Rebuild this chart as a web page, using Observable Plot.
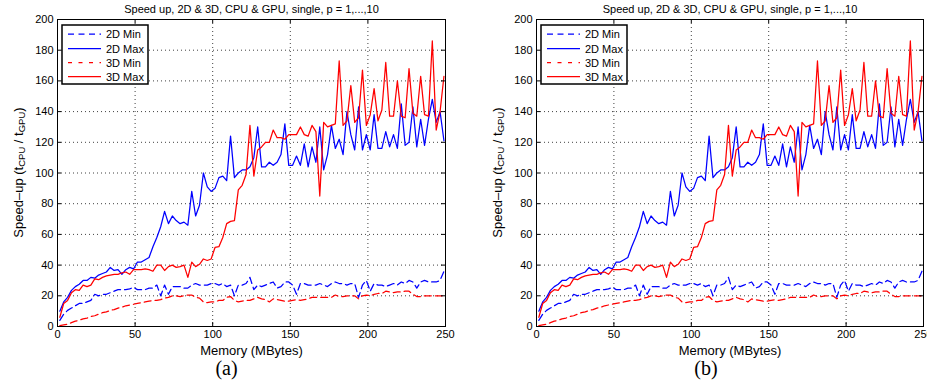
<!DOCTYPE html>
<html>
<head>
<meta charset="utf-8">
<script src="https://cdn.jsdelivr.net/npm/d3@7"></script>
<script src="https://cdn.jsdelivr.net/npm/@observablehq/plot@0.6"></script>
<style>
  html, body { margin: 0; padding: 0; background: #fff; }
  #wrap { position: relative; width: 927px; height: 386px; overflow: hidden; background: #fff; }
  .panel { position: absolute; top: 0; width: 470px; height: 386px; }
  .panel svg { max-width: none !important; }
</style>
</head>
<body>
<div id="wrap"></div>
<script>
// ---- data ----
const memory = [1.5, 4, 6.5, 9, 11.5, 14, 16.5, 19, 21.5, 24, 26.5, 29, 31.5, 34, 36.5, 39, 41.5, 44, 46.5, 49,
  51.5, 54, 56.5, 59, 61.5, 64, 66.5, 69, 71.5, 74, 76.5, 79, 81.5, 84, 86.5, 89, 91.5, 94, 96.5, 99,
  101.5, 104, 106.5, 109, 111.5, 114, 116.5, 119, 121.5, 124, 126.5, 129, 131.5, 134, 136.5, 139, 141.5, 144, 146.5, 149,
  151.5, 154, 156.5, 159, 161.5, 164, 166.5, 169, 171.5, 174, 176.5, 179, 181.5, 184, 186.5, 189, 191.5, 194, 196.5, 199,
  201.5, 204, 206.5, 209, 211.5, 214, 216.5, 219, 221.5, 224, 226.5, 229, 231.5, 234, 236.5, 239, 241.5, 244, 246.5, 249];

const min2D = [4, 8, 10.5, 12, 13.5, 15, 15, 16, 17, 21, 20, 21, 21, 22, 23, 24, 24, 24, 24.5, 25.5,
  24, 24, 24, 25, 25, 27, 20, 27, 21, 26, 26, 26, 25, 25, 27, 28, 27, 27, 27, 28,
  28, 27, 28, 26, 27, 20, 27, 27, 28, 32, 24, 27, 26, 27, 28, 29, 25, 26, 29, 29,
  27, 21, 28, 28, 27, 27, 27, 28, 27, 26, 28, 29, 28, 28, 27, 28, 28, 19, 27, 30,
  23, 28, 27, 27, 26, 27, 28, 27, 29, 28, 30, 29, 25, 29, 30, 29, 29, 29, 30, 36];

const max2D = [10, 16, 19, 23.5, 26, 27.5, 30, 30, 32, 31.5, 33.5, 34.5, 35.5, 38.5, 36.5, 37, 34, 37, 38.5, 37.5,
  42, 42, 43.5, 45, 52, 58, 65, 75, 67, 72, 69, 67, 68, 66, 88, 72, 79, 100, 91, 88,
  90, 97, 98, 95, 124, 97, 100, 102, 102, 104, 110, 130, 104, 104, 107, 105, 107, 112, 132, 105,
  105, 111, 105, 119, 104, 117, 107, 130, 102, 112, 131, 116, 122, 112, 140, 125, 115, 143, 115, 125,
  115, 138, 116, 116, 127, 117, 125, 116, 145, 118, 120, 143, 117, 135, 118, 135, 148, 133, 140, 121];

const min3D = [0.5, 1, 1.5, 2.5, 3.5, 4, 5, 5.5, 6.5, 7, 8, 9, 9.5, 10.5, 11, 12, 12.5, 13.5, 14, 14.5,
  15, 15.5, 16, 16.5, 17, 17, 17.5, 18.5, 19, 20, 20, 19.5, 20, 20.5, 20.5, 19, 18.5, 16, 15.5, 16,
  16, 17, 17, 19, 19.5, 17, 16, 16.5, 17, 17, 18, 19, 18, 17.5, 16, 18, 17.5, 17, 16.5, 16.5,
  17, 17.5, 17, 17.5, 18, 19, 19, 19, 19, 19, 19, 20.5, 19.5, 19.5, 20, 20, 20, 18, 20, 20.5,
  20, 21, 21.5, 21.5, 23, 22.5, 22, 22.5, 22.5, 23, 23, 21, 19.5, 19.5, 20, 20, 20, 20, 20, 20];

const max3D = [6, 15, 17, 22, 24, 23.5, 27, 26, 27, 31, 30.5, 32, 33, 33.5, 34, 34, 35, 35.5, 34, 37,
  37, 37, 37.5, 37, 36, 40, 40, 36.5, 39, 40, 38.5, 39, 40, 32, 42, 39, 40.5, 44, 43, 44,
  51.5, 52, 58, 67, 68.5, 69, 89, 92, 99, 131, 98, 115, 117, 120, 120, 128, 123, 123, 122, 125,
  125, 125, 130, 125, 124, 131, 127, 85, 133, 130, 131, 132, 173, 131, 134, 157, 133, 136, 167, 131,
  138, 155, 134, 141, 172, 137, 137, 160, 137, 136, 168, 139, 137, 163, 138, 137, 186, 128, 140, 163];

const seriesNames = ["2D Min", "2D Max", "3D Min", "3D Max"];
const seriesColors = ["#0000ff", "#0000ff", "#ff0000", "#ff0000"];
const seriesDash = ["7,4", null, "7,4", null];
const legendDash = ["6,4.5", null, "4,6.5", null];
const seriesValues = [min2D, max2D, min3D, max3D];

const xTicks = [0, 50, 100, 150, 200, 250];
const yTicks = [0, 20, 40, 60, 80, 100, 120, 140, 160, 180, 200];
const titleText = "Speed up, 2D & 3D, CPU & GPU, single, p = 1,...,10";
const xLabelText = "Memory (MBytes)";
const captions = ["(a)", "(b)"];

// long table built from the arrays
const table = [];
seriesNames.forEach((name, s) => {
  memory.forEach((m, i) => table.push({series: name, memory: m, speedup: seriesValues[s][i]}));
});

const W = 470, H = 386, MT = 19, MB = 60;
const font = "'Liberation Sans', Arial, Helvetica, sans-serif";

function makePanel(left, mL, mR, caption, capDx) {
  const pw = W - mL - mR, ph = H - MT - MB;
  const lineMarks = seriesNames.map((name, s) =>
    Plot.line(table.filter(d => d.series === name), {
      x: "memory", y: "speedup",
      stroke: seriesColors[s], strokeWidth: 1.25,
      strokeDasharray: seriesDash[s] || undefined
    }));
  const svg = Plot.plot({
    width: W, height: H,
    marginTop: MT, marginBottom: MB, marginLeft: mL, marginRight: mR,
    style: {fontFamily: font, fontSize: "11px", color: "#000", background: "#fff", overflow: "visible"},
    x: {domain: [0, 250]},
    y: {domain: [0, 200]},
    marks: [
      Plot.gridX(xTicks, {stroke: "#000", strokeOpacity: 0.75, strokeDasharray: "1,3"}),
      Plot.gridY(yTicks, {stroke: "#000", strokeOpacity: 0.75, strokeDasharray: "1,3"}),
      ...lineMarks,
      Plot.frame({stroke: "#000", strokeWidth: 1}),
      Plot.tickX(xTicks, {x: d => d, stroke: "#000", insetTop: ph - 4}),
      Plot.tickX(xTicks, {x: d => d, stroke: "#000", insetBottom: ph - 4}),
      Plot.tickY(yTicks, {y: d => d, stroke: "#000", insetRight: pw - 4}),
      Plot.tickY(yTicks, {y: d => d, stroke: "#000", insetLeft: pw - 4}),
      Plot.axisX(xTicks, {tickSize: 0, tickPadding: 4, fontSize: 11, label: null}),
      Plot.axisY(yTicks, {tickSize: 0, tickPadding: 4, fontSize: 11, label: null}),
      Plot.text([titleText], {frameAnchor: "top", dy: -10, fontSize: 11, lineAnchor: "middle"}),
      Plot.text([xLabelText], {frameAnchor: "bottom", dy: 24, fontSize: 13, lineAnchor: "middle"}),
      Plot.text([caption], {frameAnchor: "bottom", dy: 42, dx: capDx, fontSize: 20, lineAnchor: "middle",
        fontFamily: "'Liberation Serif', 'DejaVu Serif', serif"})
    ]
  });

  const sel = d3.select(svg);
  // y label with subscripts
  const yl = sel.append("text")
    .attr("transform", `translate(${mL - 39},${MT + ph / 2}) rotate(-90)`)
    .attr("text-anchor", "middle").attr("dominant-baseline", "central")
    .attr("font-size", 13).attr("font-family", font).attr("fill", "#000");
  yl.append("tspan").text("Speed–up (t");
  yl.append("tspan").attr("font-size", 9.5).attr("dy", 3).text("CPU");
  yl.append("tspan").attr("dy", -3).text(" / t");
  yl.append("tspan").attr("font-size", 9.5).attr("dy", 3).text("GPU");
  yl.append("tspan").attr("dy", -3).text(")");

  // legend
  const g = sel.append("g").attr("transform", `translate(${mL},0)`);
  g.append("rect").attr("x", 5).attr("y", 25).attr("width", 86).attr("height", 59)
    .attr("fill", "#fff").attr("stroke", "#000").attr("stroke-width", 1.5);
  const rowsY = [34, 48.5, 62.5, 76.5];
  seriesNames.forEach((name, s) => {
    g.append("line").attr("x1", 11).attr("x2", 44).attr("y1", rowsY[s]).attr("y2", rowsY[s])
      .attr("stroke", seriesColors[s]).attr("stroke-width", 1.25)
      .attr("stroke-dasharray", legendDash[s]);
    g.append("text").attr("x", 49).attr("y", rowsY[s]).attr("dominant-baseline", "central")
      .attr("text-anchor", "start")
      .attr("font-size", 11).attr("font-family", font).attr("fill", "#000").text(name);
  });

  const div = document.createElement("div");
  div.className = "panel";
  div.style.left = left + "px";
  div.appendChild(svg);
  document.getElementById("wrap").appendChild(div);
}

makePanel(0, 57, 25, captions[0], -25);
makePanel(470, 66, 17, captions[1], -24);
</script>
</body>
</html>
